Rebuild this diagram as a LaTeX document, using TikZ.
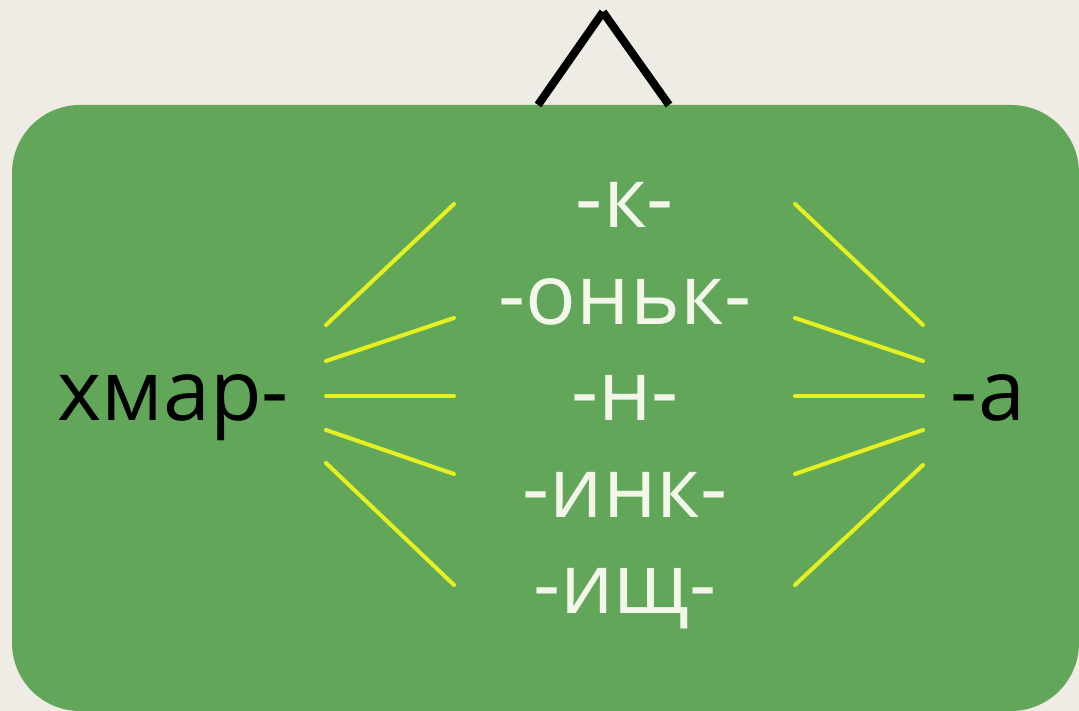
\documentclass[tikz,border=0pt]{standalone}
\usepackage{fontspec}
\setmainfont{Open Sans}
\definecolor{paper}{HTML}{EFECE5}
\definecolor{leaf}{HTML}{62A65A}
\definecolor{ray}{HTML}{E4F020}
\definecolor{chalk}{HTML}{F2F7EA}
\tikzset{
  panel/.style={fill=leaf, rounded corners=0.68cm, minimum width=10.67cm, minimum height=6.06cm, inner sep=0pt},
  stem/.style={font=\fontsize{24}{29}\selectfont, text=black, anchor=base, inner sep=0pt},
  suffix/.style={font=\fontsize{24}{29}\selectfont, text=chalk, anchor=base, inner sep=0pt},
  fan/.style={ray, line width=1.15pt, line cap=round},
  roof/.style={black, line width=2.3pt}
}
\begin{document}
\begin{tikzpicture}
  \fill[paper] (0,0) rectangle (10.79,7.11);
  \useasboundingbox (0,0) rectangle (10.79,7.11);
  \node[panel] (box) at (5.455,3.03) {};

  % roof above the box
  \coordinate (apex) at (6.03,6.99);
  \coordinate (eaveL) at (5.38,6.06);
  \coordinate (eaveR) at (6.69,6.06);
  \draw[roof] (eaveL) -- (apex);
  \draw[roof] (apex) -- (eaveR);

  \node[stem] (root) at (1.73,2.90) {хмар-};
  \node[stem] (ending) at (9.88,2.90) {-а};
  \node[suffix] (s1) at (6.25,4.83) {-к-};
  \node[suffix] (s2) at (6.25,3.865) {-оньк-};
  \node[suffix] (s3) at (6.25,2.90) {-н-};
  \node[suffix] (s4) at (6.25,1.935) {-инк-};
  \node[suffix] (s5) at (6.25,0.97) {-ищ-};

  % rays from root to suffixes
  \foreach \a/\b [count=\i] in {3.86/5.07, 3.50/3.93, 3.15/3.15, 2.81/2.37, 2.48/1.26} {
    \coordinate (lf\i) at (3.26,\a);
    \coordinate (lt\i) at (4.54,\b);
    \draw[fan] (lf\i) -- (lt\i);
  }
  % rays from suffixes to ending
  \foreach \a/\b [count=\i] in {5.07/3.86, 3.93/3.50, 3.15/3.15, 2.37/2.81, 1.26/2.46} {
    \coordinate (rf\i) at (7.95,\a);
    \coordinate (rt\i) at (9.23,\b);
    \draw[fan] (rf\i) -- (rt\i);
  }
\end{tikzpicture}
\end{document}
